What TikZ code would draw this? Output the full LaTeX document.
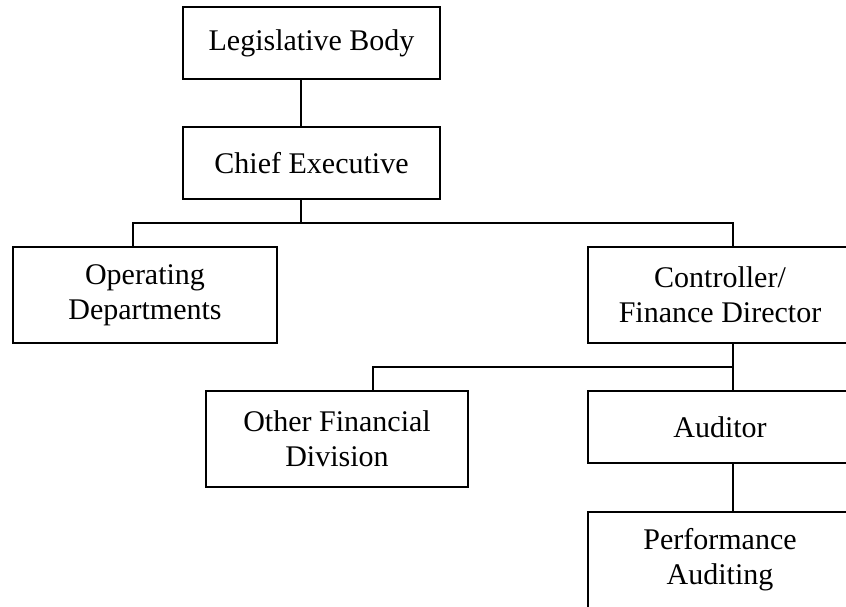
\documentclass[tikz,border=0pt]{standalone}
\usepackage{fontspec}
\setmainfont{Liberation Serif}

\begin{document}
\begin{tikzpicture}
  [x=1pt,y=-1pt,line width=1.6pt,
   every node/.style={draw,rectangle,inner sep=0pt,align=center,
     font=\fontsize{30}{35}\selectfont,minimum width=264pt,minimum height=96pt},
   onebox/.style={minimum height=72pt}]
  \clip (0,0) rectangle (846,606);
  \node[onebox,minimum width=257pt] (legis) at (311.5,43)  {Legislative Body};
  \node[onebox,minimum width=257pt] (chief) at (311.5,163) {Chief Executive};
  \node (oper)  at (145,295) {Operating\\Departments};
  \node (contr) at (720,295) {Controller/\\Finance Director};
  \node[minimum width=262pt] (other) at (337,439) {Other Financial\\Division};
  \node[onebox] (audit) at (720,427) {Auditor};
  \node (perf)  at (720,560) {Performance\\Auditing};

  \coordinate (bus1) at (301,223);
  \coordinate (bus2) at (733,367);

\draw ([xshift=-10.5pt]legis.south) -- ([xshift=-10.5pt]chief.north);
\draw ([xshift=-10.5pt]chief.south) -- (bus1);
\draw ([xshift=-12pt]oper.north) |- (bus1) -| ([xshift=13pt]contr.north);
\foreach \from/\to in {contr/audit, audit/perf}
    \draw ([xshift=13pt]\from.south) -- ([xshift=13pt]\to.north);
\draw (bus2) -| ([xshift=36pt]other.north);
\end{tikzpicture}
\end{document}
